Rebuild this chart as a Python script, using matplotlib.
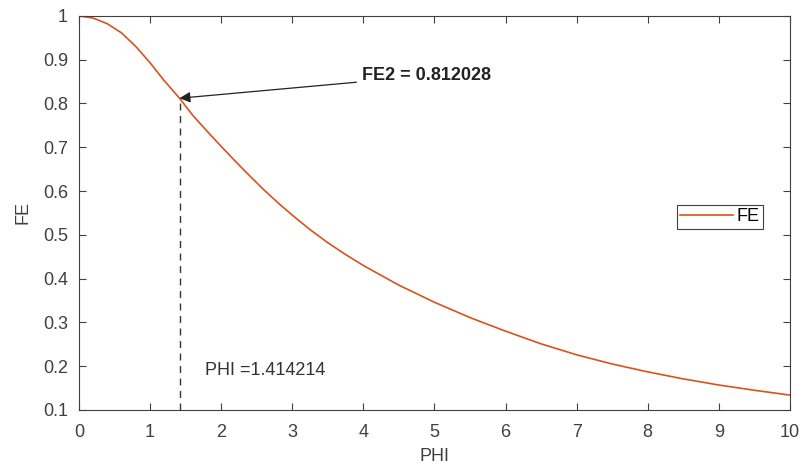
import matplotlib.pyplot as plt

plt.rcParams['font.family'] = ['Liberation Sans', 'DejaVu Sans']

# values
phi = [0, 0.2, 0.4, 0.6, 0.8, 1.0, 1.2, 1.414214, 1.6, 1.8, 2.0, 2.2, 2.4,
       2.6, 2.8, 3.0, 3.25, 3.5, 3.75, 4.0, 4.5, 5, 5.5, 6, 6.5, 7, 7.5, 8,
       8.5, 9, 9.5, 10]
fe = [1.0, 0.995, 0.982, 0.961, 0.93, 0.893, 0.852, 0.812028, 0.773, 0.737,
      0.702, 0.668, 0.635, 0.603, 0.573, 0.545, 0.512, 0.482, 0.455, 0.43,
      0.385, 0.346, 0.311, 0.280, 0.251, 0.226, 0.205, 0.187, 0.171, 0.157,
      0.145, 0.134]
phi2 = 1.414214
fe2 = 0.812028

fig = plt.figure(figsize=(8.06, 4.68), dpi=100)
ax = fig.add_axes([0.098, 0.124, 0.882, 0.842])

ax.plot(phi, fe, color='#D95319', linewidth=1.2, label='FE')
ax.plot([phi2, phi2], [0.1, fe2], color='#333333', linestyle=(0, (5, 4)), linewidth=1)

ax.annotate('FE2 = 0.812028', xy=(phi2, fe2), xytext=(3.98, 0.863),
            fontsize=13, fontweight='bold', color='#222222', va='center',
            arrowprops=dict(arrowstyle='-|>', color='#222222', lw=0.9,
                            mutation_scale=16, shrinkA=2, shrinkB=0))
ax.text(1.77, 0.19, 'PHI =1.414214', fontsize=13, color='#333333', va='center')

ax.set_xlim(0, 10)
ax.set_ylim(0.1, 1)
ax.set_xticks(range(0, 11))
ax.set_yticks([0.1, 0.2, 0.3, 0.4, 0.5, 0.6, 0.7, 0.8, 0.9, 1])
ax.set_yticklabels(['0.1', '0.2', '0.3', '0.4', '0.5', '0.6', '0.7', '0.8', '0.9', '1'])
ax.tick_params(direction='in', top=True, right=True, labelsize=13,
               colors='#404040', length=5, width=0.8)
ax.tick_params(axis='x', pad=10)
ax.tick_params(axis='y', pad=8)
for s in ax.spines.values():
    s.set_color('#404040')
    s.set_linewidth(0.8)
ax.set_xlabel('PHI', fontsize=13, color='#404040', labelpad=5)
ax.set_ylabel('FE', fontsize=13, color='#404040', labelpad=8)

leg = ax.legend(loc='center right', bbox_to_anchor=(0.962, 0.49), fontsize=13,
                fancybox=False, framealpha=1, edgecolor='#404040',
                handlelength=2.9, handletextpad=0.2, borderpad=0.2,
                borderaxespad=0)
leg.get_frame().set_linewidth(0.8)

fig.savefig('out.png', dpi=100)
